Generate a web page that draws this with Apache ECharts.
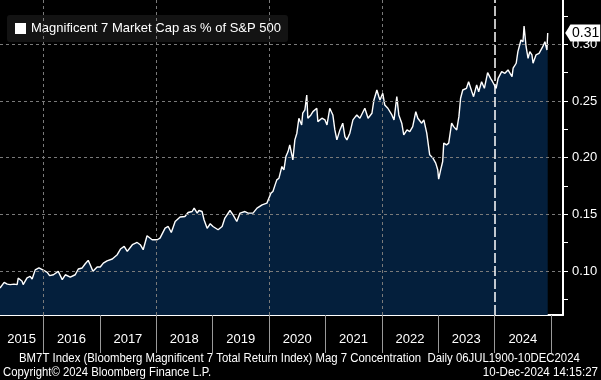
<!DOCTYPE html>
<html>
<head>
<meta charset="utf-8">
<script src="https://cdn.jsdelivr.net/npm/echarts@6/dist/echarts.min.js"></script>
<style>
html,body{margin:0;padding:0;background:#000;}
#c{width:601px;height:380px;}
</style>
</head>
<body>
<div id="c"></div>
<script>
// ---- data ----
const seriesName = 'Magnificent 7 Market Cap as % of S&P 500';
const dates = [
'2015-03-27','2015-04-23','2015-05-13','2015-06-01','2015-06-26','2015-07-16','2015-07-23','2015-08-17','2015-08-24','2015-09-18',
'2015-10-08','2015-10-21','2015-11-10','2015-12-04','2016-01-04','2016-01-27','2016-02-11','2016-03-07','2016-04-07','2016-05-03',
'2016-05-23','2016-06-24','2016-07-26','2016-08-15','2016-09-09','2016-09-29','2016-10-18','2016-10-31','2016-11-18','2016-12-15',
'2017-01-04','2017-01-24','2017-02-17','2017-03-23','2017-04-24','2017-05-15','2017-06-08','2017-06-28','2017-07-31','2017-08-31',
'2017-09-20','2017-10-09','2017-11-03','2017-12-06','2018-01-08','2018-01-26','2018-02-28','2018-03-20','2018-04-09','2018-05-04',
'2018-06-05','2018-07-06','2018-07-27','2018-08-22','2018-09-04','2018-09-24','2018-10-05','2018-10-25','2018-11-07','2018-11-27',
'2018-12-17','2019-01-04','2019-02-06','2019-03-04','2019-03-22','2019-04-24','2019-05-14','2019-06-07','2019-06-28','2019-07-30',
'2019-08-19','2019-09-20','2019-10-16','2019-11-18','2019-12-19','2020-01-14','2020-01-27','2020-02-10','2020-02-21','2020-03-06',
'2020-03-25','2020-04-07','2020-04-20','2020-05-04','2020-05-15','2020-06-04','2020-06-17','2020-06-30','2020-07-13','2020-07-31',
'2020-08-07','2020-08-21','2020-09-02','2020-09-09','2020-09-29','2020-10-12','2020-11-06','2020-11-13','2020-12-09','2020-12-29',
'2021-01-11','2021-01-29','2021-02-18','2021-03-03','2021-03-16','2021-04-05','2021-04-23','2021-05-07','2021-05-20','2021-06-08',
'2021-06-28','2021-07-23','2021-08-12','2021-09-13','2021-10-04','2021-10-29','2021-11-11','2021-11-30','2021-12-13','2021-12-20',
'2022-01-07','2022-01-20','2022-02-09','2022-03-07','2022-03-21','2022-04-08','2022-04-21','2022-05-10','2022-05-23','2022-06-13',
'2022-07-01','2022-07-20','2022-08-09','2022-08-22','2022-09-16','2022-09-30','2022-10-19','2022-11-07','2022-11-28','2022-12-16',
'2022-12-29','2023-01-04','2023-01-17','2023-01-30','2023-02-06','2023-02-24','2023-03-10','2023-03-29','2023-04-11','2023-05-01',
'2023-05-15','2023-05-26','2023-06-09','2023-07-03','2023-07-17','2023-08-07','2023-08-18','2023-09-07','2023-09-20','2023-10-09',
'2023-10-27','2023-11-17','2023-12-06','2023-12-19','2024-01-11','2024-01-24','2024-02-16','2024-03-08','2024-03-28','2024-04-23',
'2024-04-30','2024-05-20','2024-05-31','2024-06-20','2024-07-03','2024-07-10','2024-07-23','2024-08-05','2024-08-16','2024-08-30',
'2024-09-06','2024-09-25','2024-10-15','2024-11-08','2024-11-22','2024-12-05','2024-12-10'
];
const values = [
0.0850,0.0900,0.0884,0.0880,0.0884,0.0880,0.0938,0.0909,0.0880,0.0940,
0.0953,0.0930,0.1010,0.1027,0.1005,0.0988,0.0959,0.0967,0.0997,0.0924,
0.0967,0.0947,0.0967,0.1018,0.1027,0.1064,0.1094,0.1055,0.0997,0.1035,
0.1035,0.1070,0.1090,0.1106,0.1144,0.1194,0.1217,0.1173,0.1232,0.1252,
0.1232,0.1188,0.1311,0.1276,0.1276,0.1290,0.1379,0.1393,0.1340,0.1437,
0.1476,0.1481,0.1516,0.1525,0.1555,0.1510,0.1534,0.1525,0.1452,0.1377,
0.1417,0.1393,0.1364,0.1393,0.1467,0.1534,0.1496,0.1437,0.1511,0.1525,
0.1511,0.1511,0.1555,0.1584,0.1599,0.1687,0.1701,0.1760,0.1804,0.1819,
0.1922,0.1893,0.2010,0.2054,0.2113,0.1980,0.2157,0.2216,0.2348,0.2289,
0.2392,0.2421,0.2553,0.2348,0.2377,0.2406,0.2436,0.2318,0.2348,0.2333,
0.2289,0.2436,0.2377,0.2245,0.2157,0.2245,0.2304,0.2186,0.2157,0.2216,
0.2333,0.2377,0.2348,0.2436,0.2348,0.2392,0.2509,0.2597,0.2538,0.2509,
0.2568,0.2465,0.2436,0.2377,0.2333,0.2538,0.2377,0.2304,0.2201,0.2245,
0.2230,0.2274,0.2406,0.2348,0.2304,0.2333,0.2216,0.2025,0.1996,0.1952,
0.1893,0.1810,0.1893,0.1966,0.2128,0.2113,0.2128,0.2304,0.2274,0.2245,
0.2362,0.2524,0.2597,0.2612,0.2670,0.2582,0.2538,0.2641,0.2582,0.2670,
0.2612,0.2750,0.2700,0.2670,0.2612,0.2700,0.2759,0.2744,0.2774,0.2715,
0.2789,0.2833,0.2935,0.3038,0.3023,0.3161,0.2979,0.2877,0.2935,0.2906,
0.2833,0.2906,0.2920,0.2979,0.3023,0.2950,0.3100
];
const xMin = '2015-03-27';
const xMax = '2025-03-19';
const xTickDates = ['2016-01-01','2017-01-01','2018-01-01','2019-01-01','2020-01-01','2021-01-01','2022-01-01','2023-01-01','2024-01-01','2025-01-01'];
const xLabelDates = ['2015-08-14','2016-07-02','2017-07-02','2018-07-02','2019-07-02','2020-07-02','2021-07-02','2022-07-02','2023-07-02','2024-07-02'];
const xGridDates = ['2016-01-01','2018-01-01','2020-01-01','2022-01-01'];
const xMarkerDate = '2024-01-01';
const yMin = 0.0612, yMax = 0.3391;
const yTickValues = [0.075,0.10,0.125,0.15,0.175,0.20,0.225,0.25,0.275,0.30,0.325];
const yLabelValues = [0.10,0.15,0.20,0.25,0.30];
const footer1 = 'BM7T Index (Bloomberg Magnificent 7 Total Return Index) Mag 7 Concentration  Daily 06JUL1900-10DEC2024';
const footer2 = 'Copyright\u00A9 2024 Bloomberg Finance L.P.';
const footer3 = '10-Dec-2024 14:15:27';

// ---- helpers ----
function ts(s){ const p = s.split('-').map(Number); return new Date(p[0], p[1]-1, p[2]).getTime(); }
const FONT = '"Liberation Sans", Arial, sans-serif';

const seriesData = dates.map((d,i)=>[ts(d), values[i]]);
const last = seriesData[seriesData.length-1];

const gridLine = {color:'#7a7a7a', width:1, type:[3,3]};
const markLines = []
  .concat(xGridDates.map(d=>({xAxis: ts(d), lineStyle: gridLine})))
  .concat(yLabelValues.map(v=>({yAxis: v, lineStyle: gridLine})))
  .concat([{xAxis: ts(xMarkerDate), lineStyle: {color:'#ffffff', width:1.5, type:[10,3]}}]);

const chart = echarts.init(document.getElementById('c'), null, {renderer:'canvas'});
chart.setOption({
  backgroundColor:'#000',
  animation:false,
  textStyle:{fontFamily:FONT},
  grid:{left:0, right:38, top:0, bottom:65, containLabel:false},
  legend:{
    show:true, left:7, top:15, orient:'horizontal',
    data:[{name:seriesName, icon:'rect', itemStyle:{color:'#fff'}}],
    itemWidth:11, itemHeight:11, itemGap:6,
    padding:[7,7,7,8],
    backgroundColor:'#131313', borderRadius:3,
    textStyle:{color:'#fff', fontSize:13, fontFamily:FONT},
    selectedMode:false
  },
  xAxis:{
    type:'value', min: ts(xMin), max: ts(xMax), scale:true,
    axisLine:{show:true, onZero:false, lineStyle:{color:'#fff', width:2}},
    axisTick:{show:true, customValues: xTickDates.map(ts), length:38, lineStyle:{color:'#9a9a9a', width:1}},
    axisLabel:{show:true, customValues: xLabelDates.map(ts), formatter: v=>String(new Date(v).getFullYear()),
      color:'#fff', fontSize:13, margin:18, fontFamily:FONT},
    splitLine:{show:false}
  },
  yAxis:{
    type:'value', position:'right', min:yMin, max:yMax,
    axisLine:{show:true, onZero:false, lineStyle:{color:'#fff', width:2}},
    axisTick:{show:true, customValues: yTickValues, length:5, lineStyle:{color:'#fff', width:1}},
    axisLabel:{show:true, customValues: yLabelValues, formatter: v=>v.toFixed(2),
      color:'#fff', fontSize:13, margin:9, fontFamily:FONT},
    splitLine:{show:false}
  },
  series:[{
    name:seriesName, type:'line', data:seriesData,
    showSymbol:false, symbol:'none', clip:false,
    itemStyle:{color:'#fff'},
    lineStyle:{color:'#fff', width:1.4},
    areaStyle:{color:'#041f3c', opacity:1},
    markLine:{silent:true, symbol:['none','none'], label:{show:false}, data: markLines, animation:false},
    markPoint:{
      silent:true, animation:false,
      data:[{coord:last, value:last[1]}],
      symbol:'path://M0,8 L6,0 L40,0 L40,16 L6,16 Z',
      symbolSize:[35,17], symbolKeepAspect:false, symbolOffset:[35,0],
      itemStyle:{color:'#fff'},
      label:{show:true, position:'inside', offset:[3,0], color:'#000', fontSize:14, fontFamily:FONT,
        formatter: p=>Number(p.value).toFixed(2)}
    }
  }],
  graphic:[
    {type:'text', x:19, y:352, scaleX:0.875, style:{text:footer1, fill:'#fff', font:'13px '+FONT, textAlign:'left'}},
    {type:'text', x:3, y:366, scaleX:0.87, style:{text:footer2, fill:'#fff', font:'13px '+FONT, textAlign:'left'}},
    {type:'text', x:598, y:366, scaleX:0.89, style:{text:footer3, fill:'#fff', font:'13px '+FONT, textAlign:'right'}}
  ]
});
</script>
</body>
</html>
